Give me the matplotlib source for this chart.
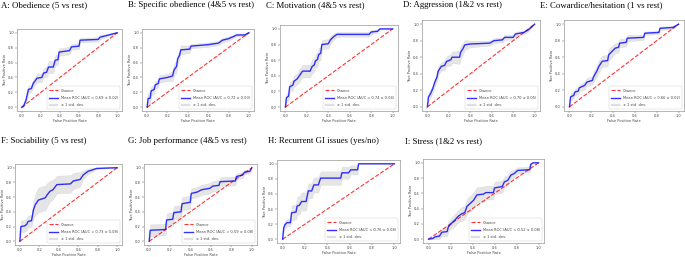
import matplotlib
matplotlib.use("Agg")
import matplotlib.pyplot as plt
import numpy as np

titles = ["A: Obedience (5 vs rest)", "B: Specific obedience (4&5 vs rest)",
          "C: Motivation (4&5 vs rest)", "D: Aggression (1&2 vs rest)",
          "E: Cowardice/hesitation (1 vs rest)", "F: Sociability (5 vs rest)",
          "G: Job performance (4&5 vs rest)", "H: Recurrent GI issues (yes/no)",
          "I: Stress (1&2 vs rest)"]
auc_labels = ["0.69 ± 0.02", "0.72 ± 0.03", "0.74 ± 0.04", "0.70 ± 0.05", "0.66 ± 0.02",
              "0.73 ± 0.08", "0.59 ± 0.08", "0.76 ± 0.08", "0.52 ± 0.08"]

fpr_A = [0, 0.02, 0.045, 0.07, 0.10, 0.12, 0.16, 0.21, 0.23, 0.26, 0.28, 0.33, 0.35, 0.38, 0.39, 0.50, 0.52, 0.60, 0.61, 0.80, 0.82, 1.0]
tpr_A = [0, 0.02, 0.10, 0.24, 0.25, 0.32, 0.39, 0.40, 0.46, 0.47, 0.54, 0.54, 0.63, 0.64, 0.74, 0.76, 0.81, 0.82, 0.90, 0.91, 0.94, 1.0]
std_A = [0, 0.02, 0.04, 0.05, 0.05, 0.05, 0.06, 0.06, 0.06, 0.07, 0.08, 0.08, 0.07, 0.07, 0.05, 0.05, 0.04, 0.04, 0.03, 0.03, 0.03, 0.0]

fpr_B = [0, 0.01, 0.03, 0.04, 0.07, 0.08, 0.11, 0.12, 0.20, 0.25, 0.265, 0.29, 0.30, 0.32, 0.33, 0.42, 0.43, 0.60, 0.70, 0.74, 0.80, 0.85, 0.88, 0.96, 1.0]
tpr_B = [0, 0.12, 0.12, 0.22, 0.24, 0.30, 0.32, 0.38, 0.40, 0.42, 0.50, 0.55, 0.65, 0.70, 0.77, 0.78, 0.82, 0.84, 0.86, 0.90, 0.92, 0.95, 0.97, 0.97, 1.0]
std_B = [0, 0.08, 0.08, 0.06, 0.06, 0.05, 0.05, 0.05, 0.05, 0.07, 0.08, 0.08, 0.07, 0.06, 0.06, 0.05, 0.03, 0.03, 0.03, 0.03, 0.03, 0.02, 0.02, 0.02, 0.0]

fpr_C = [0, 0.01, 0.03, 0.04, 0.07, 0.08, 0.11, 0.13, 0.16, 0.23, 0.25, 0.27, 0.28, 0.30, 0.31, 0.33, 0.34, 0.40, 0.42, 0.45, 0.48, 0.78, 0.80, 0.86, 0.88, 1.0]
tpr_C = [0, 0.12, 0.14, 0.26, 0.28, 0.33, 0.36, 0.40, 0.46, 0.46, 0.52, 0.54, 0.59, 0.61, 0.67, 0.69, 0.80, 0.81, 0.86, 0.90, 0.93, 0.93, 0.96, 0.97, 1.0, 1.0]
std_C = [0, 0.05, 0.06, 0.06, 0.07, 0.07, 0.07, 0.08, 0.08, 0.08, 0.09, 0.09, 0.09, 0.09, 0.09, 0.08, 0.06, 0.06, 0.05, 0.04, 0.03, 0.03, 0.03, 0.02, 0.0, 0.0]

fpr_D = [0, 0.01, 0.03, 0.05, 0.07, 0.09, 0.10, 0.13, 0.16, 0.18, 0.22, 0.23, 0.30, 0.31, 0.33, 0.35, 0.40, 0.58, 0.62, 0.70, 0.72, 0.80, 0.82, 0.90, 0.94, 1.0]
tpr_D = [0, 0.12, 0.16, 0.22, 0.30, 0.36, 0.43, 0.49, 0.50, 0.55, 0.57, 0.60, 0.60, 0.66, 0.70, 0.75, 0.76, 0.77, 0.80, 0.81, 0.84, 0.84, 0.88, 0.90, 0.93, 1.0]
std_D = [0, 0.05, 0.05, 0.05, 0.05, 0.05, 0.05, 0.05, 0.06, 0.06, 0.07, 0.07, 0.08, 0.08, 0.07, 0.06, 0.04, 0.03, 0.03, 0.03, 0.03, 0.03, 0.03, 0.02, 0.02, 0.0]

fpr_E = [0, 0.01, 0.04, 0.05, 0.08, 0.09, 0.14, 0.16, 0.21, 0.22, 0.25, 0.27, 0.30, 0.35, 0.36, 0.39, 0.42, 0.45, 0.46, 0.52, 0.53, 0.68, 0.69, 0.82, 0.83, 0.95, 1.0]
tpr_E = [0, 0.12, 0.14, 0.18, 0.19, 0.23, 0.26, 0.30, 0.32, 0.36, 0.43, 0.49, 0.55, 0.56, 0.63, 0.67, 0.71, 0.72, 0.77, 0.78, 0.83, 0.84, 0.89, 0.90, 0.95, 0.96, 1.0]
std_E = [0, 0.05, 0.04, 0.04, 0.04, 0.04, 0.05, 0.05, 0.05, 0.06, 0.07, 0.07, 0.07, 0.07, 0.07, 0.07, 0.06, 0.06, 0.05, 0.05, 0.04, 0.03, 0.02, 0.02, 0.02, 0.02, 0.0]

fpr_F = [0, 0.01, 0.05, 0.07, 0.085, 0.12, 0.14, 0.16, 0.19, 0.26, 0.28, 0.31, 0.34, 0.38, 0.52, 0.55, 0.62, 0.65, 0.70, 0.79, 1.0]
tpr_F = [0, 0.20, 0.21, 0.23, 0.27, 0.28, 0.43, 0.50, 0.56, 0.59, 0.63, 0.68, 0.70, 0.77, 0.78, 0.82, 0.84, 0.90, 0.95, 0.99, 1.0]
std_F = [0, 0.08, 0.08, 0.08, 0.08, 0.08, 0.12, 0.15, 0.17, 0.17, 0.16, 0.14, 0.13, 0.12, 0.12, 0.11, 0.10, 0.06, 0.04, 0.01, 0.0]

fpr_G = [0, 0.01, 0.16, 0.17, 0.23, 0.24, 0.31, 0.32, 0.40, 0.41, 0.47, 0.51, 0.59, 0.62, 0.68, 0.69, 0.84, 0.85, 0.91, 0.93, 0.98, 1.0]
tpr_G = [0, 0.15, 0.16, 0.29, 0.30, 0.39, 0.40, 0.51, 0.53, 0.65, 0.67, 0.70, 0.72, 0.75, 0.76, 0.81, 0.82, 0.88, 0.90, 0.94, 0.95, 1.0]
std_G = [0, 0.08, 0.08, 0.09, 0.09, 0.09, 0.09, 0.09, 0.09, 0.07, 0.07, 0.07, 0.07, 0.07, 0.07, 0.06, 0.06, 0.04, 0.04, 0.03, 0.03, 0.0]

fpr_H = [0, 0.01, 0.02, 0.04, 0.07, 0.08, 0.12, 0.13, 0.15, 0.17, 0.21, 0.22, 0.23, 0.26, 0.28, 0.32, 0.34, 0.52, 0.53, 0.59, 0.61, 0.67, 0.68, 1.0]
tpr_H = [0, 0.15, 0.19, 0.22, 0.22, 0.35, 0.36, 0.44, 0.45, 0.50, 0.50, 0.57, 0.64, 0.64, 0.72, 0.72, 0.81, 0.81, 0.88, 0.88, 0.92, 0.92, 1.0, 1.0]
std_H = [0, 0.05, 0.05, 0.05, 0.05, 0.10, 0.10, 0.12, 0.12, 0.12, 0.12, 0.11, 0.10, 0.10, 0.10, 0.10, 0.09, 0.09, 0.08, 0.08, 0.06, 0.06, 0.0, 0.0]

fpr_I = [0, 0.04, 0.06, 0.10, 0.12, 0.17, 0.18, 0.21, 0.24, 0.27, 0.30, 0.33, 0.35, 0.38, 0.41, 0.44, 0.50, 0.52, 0.59, 0.60, 0.67, 0.69, 0.72, 0.75, 0.78, 0.81, 0.92, 0.93, 0.95, 1.0]
tpr_I = [0, 0.01, 0.03, 0.04, 0.09, 0.10, 0.16, 0.21, 0.25, 0.30, 0.33, 0.35, 0.43, 0.47, 0.51, 0.58, 0.59, 0.61, 0.61, 0.67, 0.69, 0.75, 0.77, 0.84, 0.86, 0.90, 0.91, 0.98, 1.0, 1.0]
std_I = [0, 0.02, 0.03, 0.04, 0.05, 0.06, 0.06, 0.07, 0.08, 0.08, 0.09, 0.09, 0.10, 0.10, 0.10, 0.10, 0.10, 0.09, 0.09, 0.08, 0.08, 0.07, 0.07, 0.06, 0.05, 0.04, 0.04, 0.02, 0.0, 0.0]

fprs = [fpr_A, fpr_B, fpr_C, fpr_D, fpr_E, fpr_F, fpr_G, fpr_H, fpr_I]
tprs = [tpr_A, tpr_B, tpr_C, tpr_D, tpr_E, tpr_F, tpr_G, tpr_H, tpr_I]
stds = [std_A, std_B, std_C, std_D, std_E, std_F, std_G, std_H, std_I]

W, H = 685, 257
# axes boxes in pixels: left, right, top, bottom
boxes = [(17, 122, 29, 111), (142, 254, 29, 111), (280, 398, 25, 111),
         (422, 540, 20, 111), (564, 684, 20, 111),
         (15, 122, 164, 245), (144, 257, 164, 245), (277, 400, 160, 243),
         (423, 544, 159, 243)]
title_pos = [(1, 5), (128, 5), (266, 5), (403, 5), (540, 5),
             (1, 141), (128, 141), (268, 141), (405, 141)]

fig = plt.figure(figsize=(W / 100, H / 100), dpi=100)
fig.patch.set_facecolor("white")

for i in range(9):
    l, r, t, b = boxes[i]
    ax = fig.add_axes([l / W, 1 - b / H, (r - l) / W, (b - t) / H])
    x = np.array(fprs[i]); y = np.array(tprs[i]); s = np.array(stds[i])
    ax.plot([0, 1], [0, 1], linestyle="--", lw=0.8, color="r", alpha=0.8, label="Chance")
    ax.plot(x, y, color="b", lw=1.0, alpha=0.8,
            label="Mean ROC (AUC = %s)" % auc_labels[i])
    ax.fill_between(x, np.maximum(y - s, 0), np.minimum(y + s, 1), color="grey",
                    alpha=0.2, lw=0.3, label="± 1 std. dev.")
    ax.set_xlim(-0.05, 1.05); ax.set_ylim(-0.05, 1.05)
    ax.set_xticks([0, 0.2, 0.4, 0.6, 0.8, 1.0]); ax.set_yticks([0, 0.2, 0.4, 0.6, 0.8, 1.0])
    ax.tick_params(labelsize=2.6, length=1.2, width=0.3, pad=1, colors="#444444")
    ax.set_xlabel("False Positive Rate", fontsize=2.6, labelpad=1, color="#444444")
    ax.set_ylabel("True Positive Rate", fontsize=2.6, labelpad=1, color="#444444")
    for sp in ax.spines.values():
        sp.set_color("#999999"); sp.set_linewidth(0.5)
    leg = ax.legend(loc="lower right", fontsize=2.6, handlelength=2.5, borderpad=0.6,
                    labelspacing=0.9, framealpha=1)
    leg.get_frame().set_linewidth(0.3)
    for txt in leg.get_texts():
        txt.set_color("#444444")
    tx, ty = title_pos[i]
    fig.text(tx / W, 1 - ty / H, titles[i], family="Liberation Serif", fontsize=6.3,
             va="center", ha="left")

fig.savefig("out.png", dpi=100)
